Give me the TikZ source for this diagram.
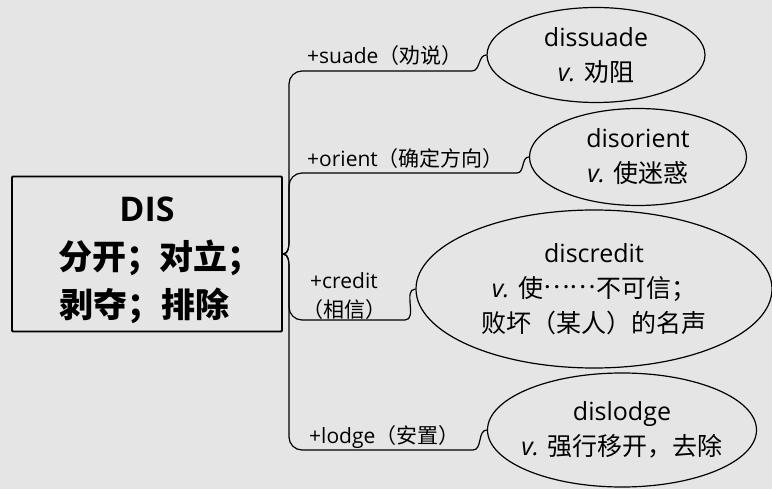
\documentclass[tikz,border=0pt]{standalone}
\usepackage{fontspec}
\setmainfont{Open Sans}
\newfontfamily\cjk{Noto Sans CJK SC}
\usetikzlibrary{shapes.geometric}

\tikzset{
    rootbox/.style={draw, line width=1.8pt, rounded corners=1pt, align=center,
        minimum width=270pt, minimum height=155pt,
        font=\bfseries\fontsize{34}{48}\selectfont},
    wordbox/.style={ellipse, draw, line width=1.2pt, inner sep=0pt, align=center,
        font=\fontsize{25}{35}\selectfont},
    prefixlabel/.style={anchor=base west, inner sep=0pt, font=\fontsize{21}{29}\selectfont},
    branch/.style={draw, line width=1.2pt},
}

\begin{document}
\begin{tikzpicture}[x=1pt,y=-1pt]
                    \fill[black!10] (0,0) rectangle (772,489);
                    \useasboundingbox (0,0) rectangle (772,489);
                    \node[rootbox] (root) at (147,254) {\rule{0pt}{38pt}DIS\\
                        \hspace*{26pt}{\cjk 分开；对立；}\\
                        \hspace*{26pt}{\cjk 剥夺；排除}\hspace*{30pt}};
                    \node[wordbox, minimum width=218pt, minimum height=95pt] (dissuade) at (596,55)
                        {dissuade\\\textit{v.} {\cjk 劝阻}};
                    \node[wordbox, minimum width=217pt, minimum height=97pt] (disorient) at (638,157)
                        {disorient\\\textit{v.} {\cjk 使迷惑}};
                    \node[wordbox, minimum width=356pt, minimum height=158pt] (discredit) at (594,289)
                        {discredit\\\textit{v.} {\cjk 使\raisebox{0.35em}{……}不可信；}\\{\cjk 败坏（某人）的名声}};
                    \node[wordbox, inner xsep=-12pt, minimum width=269pt, minimum height=114pt] (dislodge) at (622,430)
                        {dislodge\\\textit{v.} {\cjk 强行移开，去除}};
                    \node[prefixlabel] (suadelbl) at (307,64) {+suade{\cjk（劝说）}};
                    \node[prefixlabel] (orientlbl) at (307,167) {+orient{\cjk（确定方向）}};
                    \node[prefixlabel, anchor=center, align=center] (creditlbl) at (344,296) {+credit\\{\cjk（相信）}};
                    \node[prefixlabel] (lodgelbl) at (309,443) {+lodge{\cjk（安置）}};
                    \draw[branch] (root.east) to[out=0,in=-90] (289,240) -- (289,84) to[out=90,in=180] (302,71)
                        -- (472,71) to[out=0,in=180] (dissuade.west);
                    \draw[branch] (root.east) to[out=0,in=-90] (289,240) -- (289,186) to[out=90,in=180] (302,173)
                        -- (517,173) to[out=0,in=180] (disorient.west);
                    \draw[branch] (root.east) to[out=0,in=90] (289,268) -- (289,307) to[out=-90,in=180] (302,320)
                        -- (405,320) to[out=0,in=180] (discredit.west);
                    \draw[branch] (root.east) to[out=0,in=90] (289,268) -- (289,437) to[out=-90,in=180] (302,450)
                        -- (473,450) to[out=0,in=180] (dislodge.west);
                \end{tikzpicture}
\end{document}
